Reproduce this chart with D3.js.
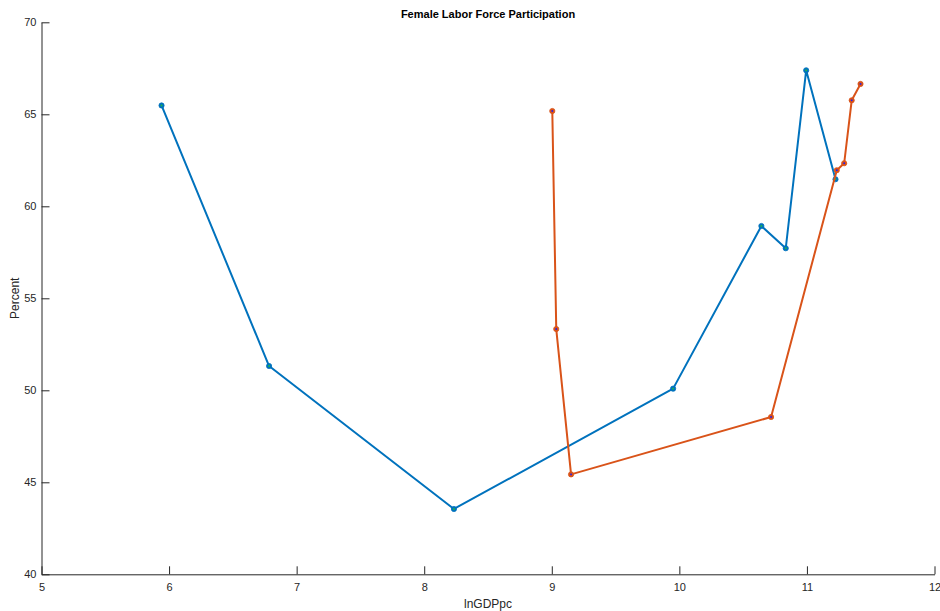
<!DOCTYPE html>
<html>
<head>
<meta charset="utf-8">
<script src="https://cdn.jsdelivr.net/npm/d3@7"></script>
<style>
  html, body { margin: 0; padding: 0; background: #fff; }
  svg { display: block; font-family: "Liberation Sans", Arial, Helvetica, sans-serif; }
</style>
</head>
<body>
<svg id="chart" width="940" height="611"></svg>
<script>
// Series: log GDP per capita vs. female labor force participation (%)
const seriesAX = [5.941, 6.784, 8.233, 9.951, 10.643, 10.834, 10.994, 11.224];
const seriesAY = [65.48, 51.32, 43.55, 50.09, 58.93, 57.72, 67.39, 61.47];
const seriesBX = [9.004, 9.035, 9.151, 10.719, 11.234, 11.292, 11.351, 11.420];
const seriesBY = [65.18, 53.33, 45.43, 48.55, 61.96, 62.34, 65.76, 66.65];

const xTicks = [5, 6, 7, 8, 9, 10, 11, 12];
const yTicks = [40, 45, 50, 55, 60, 65, 70];

const titleText = "Female Labor Force Participation";
const xLabelText = "lnGDPpc";
const yLabelText = "Percent";

const svg = d3.select("#chart");
const plot = { left: 41.5, right: 934.5, top: 22.3, bottom: 574.3 };

const x = d3.scaleLinear().domain([5, 12]).range([plot.left, plot.right]);
const y = d3.scaleLinear().domain([40, 70]).range([plot.bottom, plot.top]);

const axisColor = "#262626";

// Axes: ticks point inward, no box
const xAxis = svg.append("g")
  .attr("transform", `translate(0,${plot.bottom})`)
  .call(d3.axisBottom(x).tickValues(xTicks).tickSizeInner(-8).tickSizeOuter(0).tickPadding(9).tickFormat(d3.format("d")));
const yAxis = svg.append("g")
  .attr("transform", `translate(${plot.left},0)`)
  .call(d3.axisLeft(y).tickValues(yTicks).tickSizeInner(-8).tickSizeOuter(0).tickPadding(5).tickFormat(d3.format("d")));

[xAxis, yAxis].forEach(g => {
  g.select(".domain").attr("stroke", axisColor).attr("stroke-width", 1);
  g.selectAll(".tick line").attr("stroke", axisColor).attr("stroke-width", 1);
  g.selectAll(".tick text").attr("fill", axisColor).attr("font-size", 11)
    .attr("font-family", "Liberation Sans, Arial, sans-serif");
});

// Lines with circle markers
const series = [
  { xs: seriesAX, ys: seriesAY, color: "#0072BD", center: "#22c03a" },
  { xs: seriesBX, ys: seriesBY, color: "#D95319", center: "#1a1aff" }
];

const line = d3.line().x(d => x(d[0])).y(d => y(d[1]));

series.forEach(s => {
  const pts = s.xs.map((v, i) => [v, s.ys[i]]);
  svg.append("path")
    .datum(pts)
    .attr("d", line)
    .attr("fill", "none")
    .attr("stroke", s.color)
    .attr("stroke-width", 2)
    .attr("stroke-linejoin", "round");
  const g = svg.append("g");
  g.selectAll("circle")
    .data(pts)
    .join("circle")
    .attr("cx", d => x(d[0]))
    .attr("cy", d => y(d[1]))
    .attr("r", 2.6)
    .attr("fill", s.color)
    .attr("stroke", s.color)
    .attr("stroke-width", 0.8);
  g.selectAll("rect")
    .data(pts)
    .join("rect")
    .attr("x", d => x(d[0]) - 0.8)
    .attr("y", d => y(d[1]) - 0.8)
    .attr("width", 1.6)
    .attr("height", 1.6)
    .attr("fill", s.center);
});

// Title and axis labels
svg.append("text")
  .attr("x", (plot.left + plot.right) / 2)
  .attr("y", 18)
  .attr("text-anchor", "middle")
  .attr("font-size", 11)
  .attr("font-weight", "bold")
  .attr("fill", "#000")
  .text(titleText);

svg.append("text")
  .attr("x", (plot.left + plot.right) / 2)
  .attr("y", 608)
  .attr("text-anchor", "middle")
  .attr("font-size", 12)
  .attr("fill", axisColor)
  .text(xLabelText);

svg.append("text")
  .attr("transform", `translate(19,${(plot.top + plot.bottom) / 2}) rotate(-90)`)
  .attr("text-anchor", "middle")
  .attr("font-size", 12)
  .attr("fill", axisColor)
  .text(yLabelText);
</script>
</body>
</html>
